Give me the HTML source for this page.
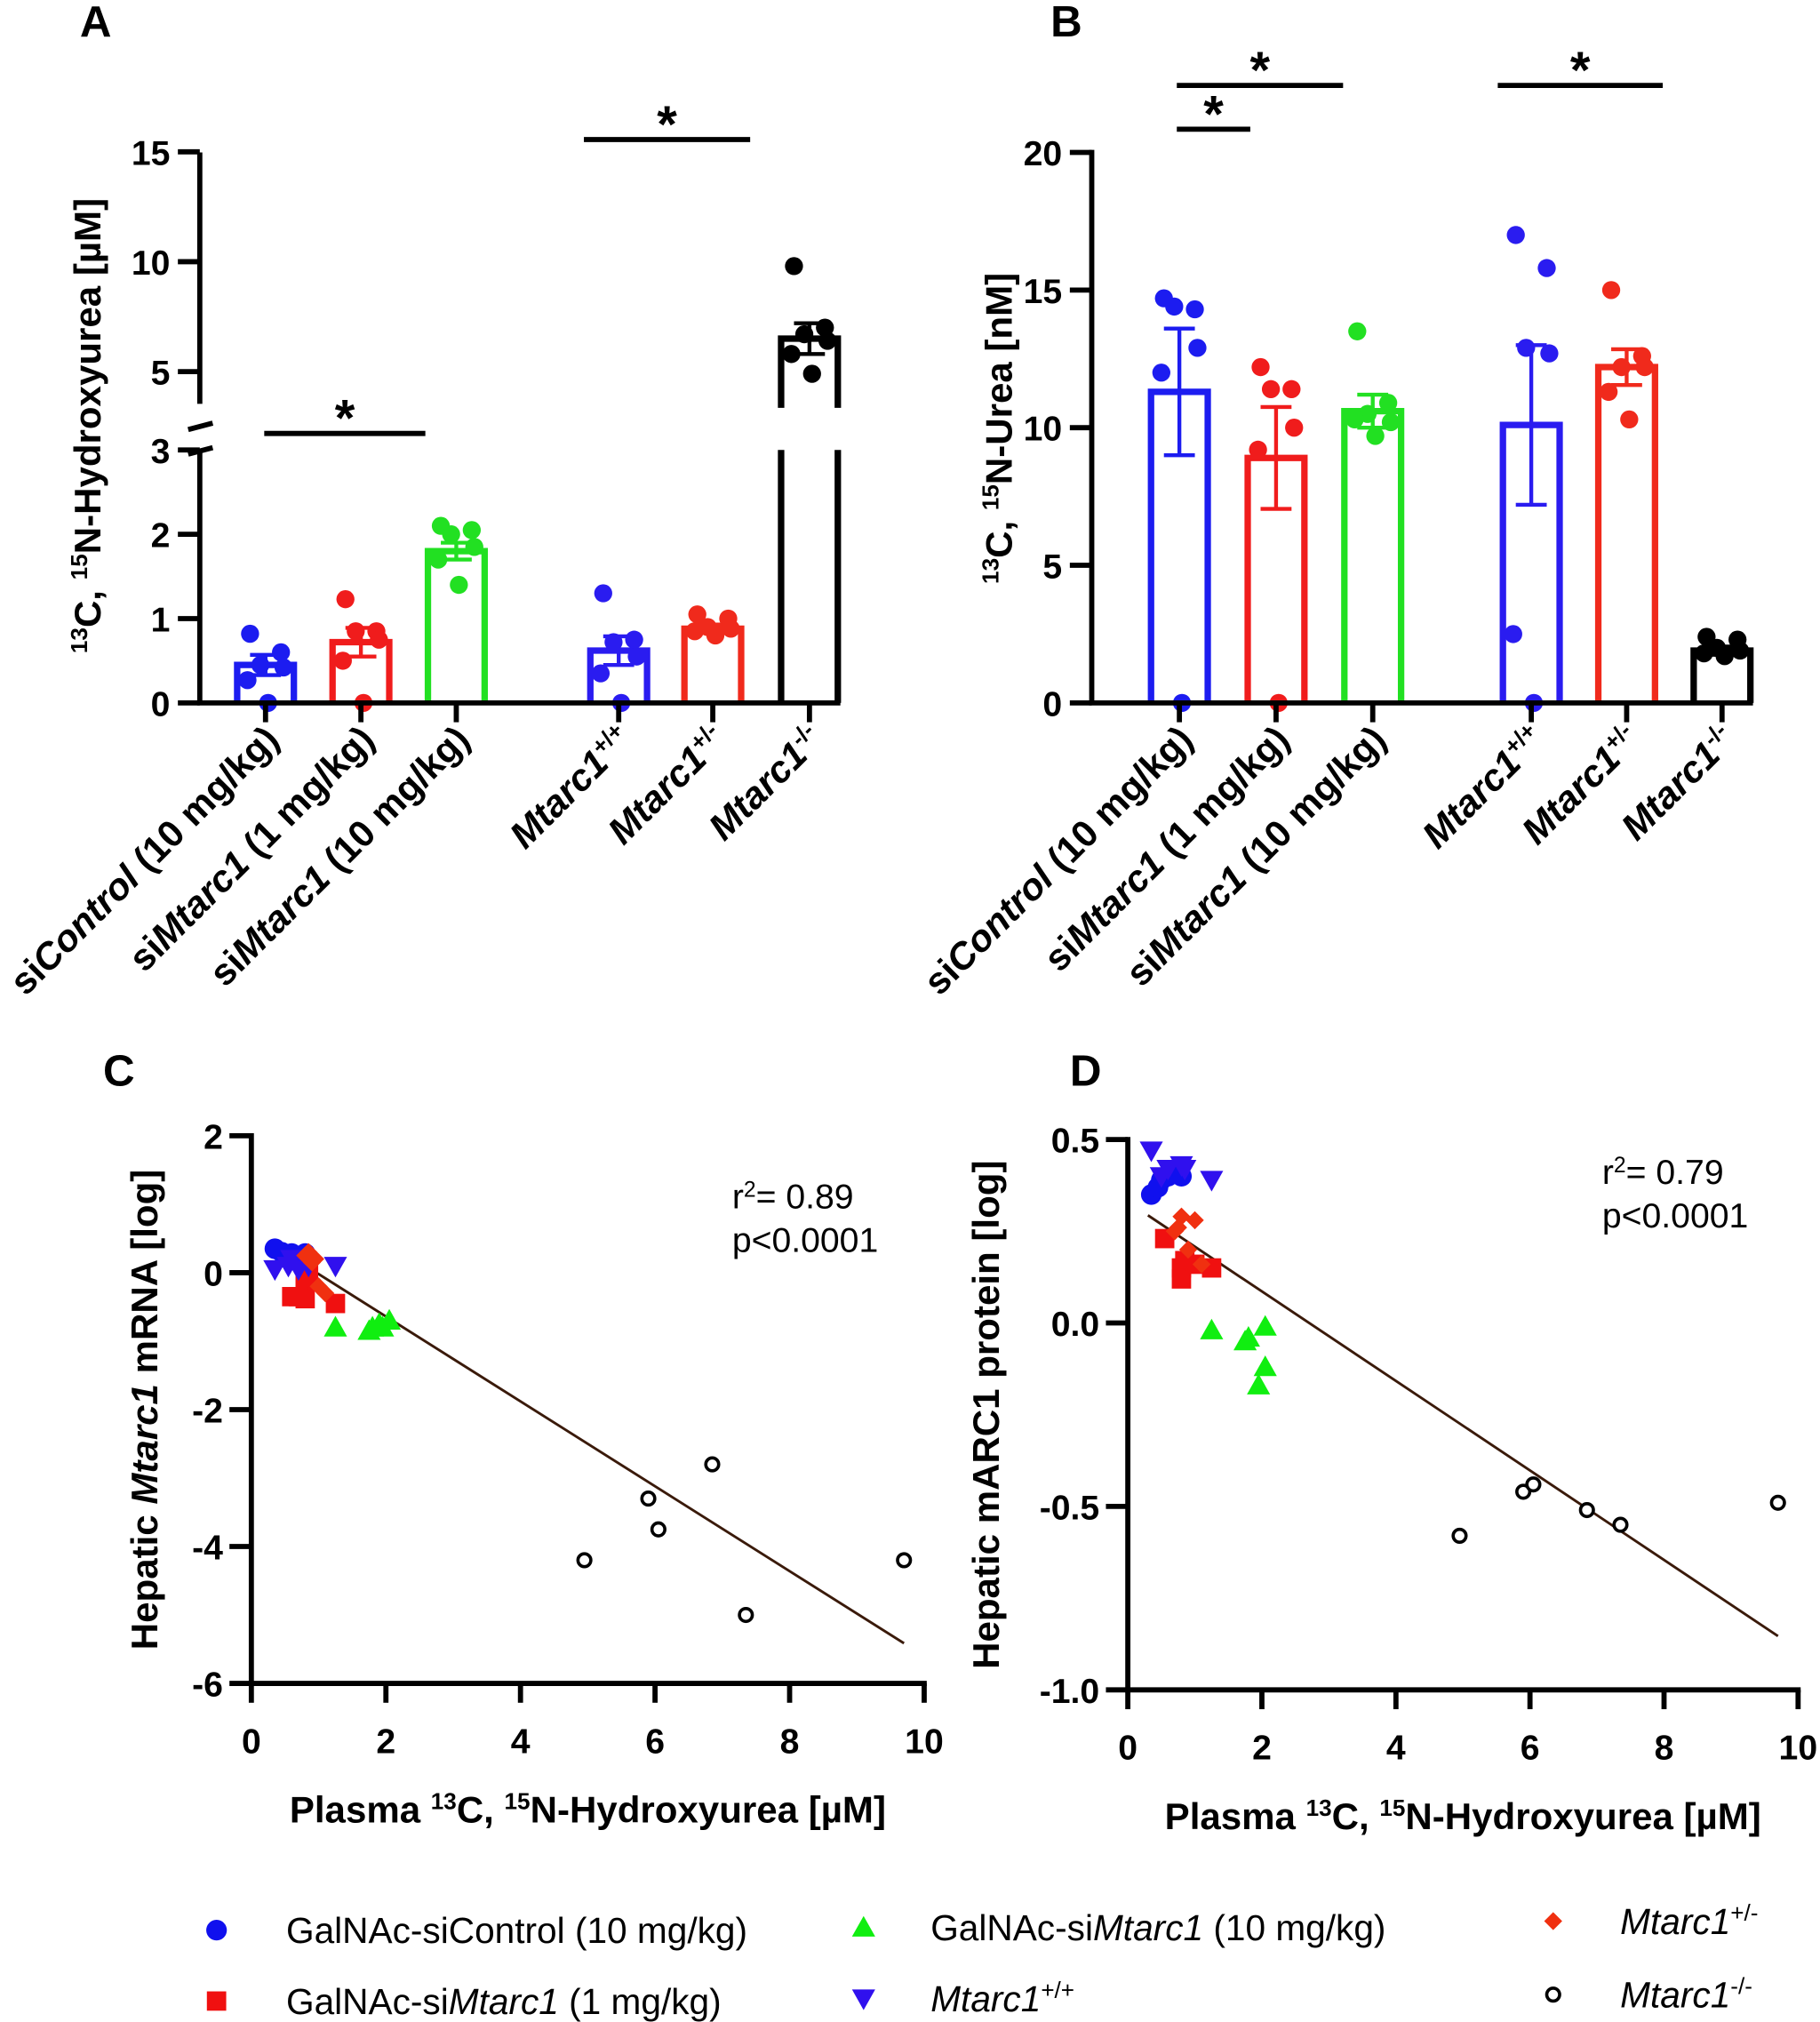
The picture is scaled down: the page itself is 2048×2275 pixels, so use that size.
<!DOCTYPE html>
<html><head><meta charset="utf-8"><style>
html,body{margin:0;padding:0;background:#fff;}
svg{display:block;font-family:"Liberation Sans",Arial,sans-serif;}
.tk{font-size:27px;font-weight:bold;}
.at{font-size:29px;font-weight:bold;}
.pl{font-size:34px;font-weight:bold;}
.st{font-size:40px;font-weight:bold;}
.lg{font-size:28px;}
</style></head><body>
<svg id="fig" width="2048" height="2275" viewBox="0 0 1412 1568">
<g id="A"></g>
<g id="B"></g>
<g id="C"></g>
<g id="D"></g>
<g id="L"></g>
</svg>
<script>
const NS="http://www.w3.org/2000/svg";
// ---- Data ----
const barGroups=["siControl (10 mg/kg)","siMtarc1 (1 mg/kg)","siMtarc1 (10 mg/kg)","Mtarc1+/+","Mtarc1+/-","Mtarc1-/-"];
const barColors=["#1c1cf0","#f01c1c","#22e022","#2a1cf0","#f02a1c","#000"];
const aMeans=[0.45,0.72,1.8,0.62,0.88,6.5];
const aSem=[0.12,0.17,0.1,0.17,0.05,0.7];
const aPoints=[[0.82,0.6,0.45,0.42,0.27,0.0],[1.23,0.85,0.85,0.75,0.5,0.0],[2.1,2.05,2.0,1.85,1.7,1.4],[1.3,0.75,0.72,0.55,0.35,0.0],[1.05,1.0,0.9,0.88,0.85,0.8],[9.8,7.0,6.7,6.4,5.8,4.9]];
const bMeans=[11.3,8.9,10.6,10.1,12.2,1.9];
const bSem=[2.3,1.85,0.6,2.9,0.65,0.15];
const bPoints=[[14.7,14.3,14.4,12.9,12.0,0],[12.2,11.4,11.4,10.0,9.2,0],[13.5,10.9,10.5,10.2,10.3,9.7],[17.0,15.8,12.9,12.7,2.5,0],[15.0,12.6,12.2,12.2,11.3,10.3],[2.4,2.3,2.0,1.9,1.8,1.7]];
const aTicksLow=[0,1,2,3], aTicksHigh=[5,10,15], bTicks=[0,5,10,15,20];
const cX=[[0.35,0.5,0.6,0.75,0.8,0.45],[0.6,0.8,0.8,1.25,0.7,0.85],[1.75,1.8,2.05,1.95,1.25,1.9],[0.35,0.55,0.7,0.85,1.25,0.6],[0.8,0.9,1.0,1.1,0.95,0.85],[4.95,5.9,6.05,6.85,7.35,9.7]];
const cY=[[0.35,0.25,0.28,0.25,0.28,0.3],[-0.35,-0.38,-0.1,-0.45,-0.35,0.0],[-0.85,-0.8,-0.7,-0.8,-0.8,-0.75],[0.05,0.1,0.05,0.1,0.1,0.2],[0.25,0.15,-0.2,-0.3,0.2,0.3],[-4.2,-3.3,-3.75,-2.8,-5.0,-4.2]];
const dX=[[0.35,0.5,0.6,0.7,0.8,0.45],[0.55,0.8,0.8,0.85,1.25,1.0],[1.25,1.75,1.8,2.05,2.05,1.95],[0.35,0.6,0.8,0.85,1.25,0.5],[0.75,0.8,1.0,0.9,1.1,0.7],[4.95,5.9,6.05,6.85,7.35,9.7]];
const dY=[[0.35,0.39,0.4,0.41,0.4,0.37],[0.23,0.12,0.15,0.17,0.15,0.16],[-0.02,-0.05,-0.04,-0.12,-0.01,-0.17],[0.47,0.42,0.43,0.42,0.39,0.4],[0.26,0.29,0.28,0.2,0.16,0.25],[-0.58,-0.46,-0.44,-0.51,-0.55,-0.49]];
const cFit=[0.6,-0.62], dFit=[0.33,-0.122];
const xTicks=[0,2,4,6,8,10], cYTicks=[2,0,-2,-4,-6], dYTicks=[0.5,0.0,-0.5,-1.0];
const seriesNames=["GalNAc-siControl (10 mg/kg)","GalNAc-siMtarc1 (1 mg/kg)","GalNAc-siMtarc1 (10 mg/kg)","Mtarc1+/+","Mtarc1+/-","Mtarc1-/-"];
const sColors=["#1010ee","#f01010","#10ee10","#3010ee","#f03010","#000"];
const sShapes=["circle","square","tri","dtri","diamond","open"];

function el(p,t,a,txt){const e=document.createElementNS(NS,t);for(const k in a)e.setAttribute(k,a[k]);if(txt!==undefined)e.innerHTML=txt;p.appendChild(e);return e;}
function line(p,x1,y1,x2,y2,c,w){return el(p,"line",{x1,y1,x2,y2,stroke:c||"#000","stroke-width":w||4});}

// ---- Panel A ----
const A=document.getElementById("A");
function ayA(v){return v<=3.5?545-v*65.4:288-(v-5)*17.05;}
const bxA=[206,280,354,480,553,628], bxB=[915,990,1065,1188,1262,1336];
let t=el(A,"text",{x:62,y:28,class:"pl"},"A");
function drawBars(P,bx,means,sem,pts,ay,clipBreak){
 means.forEach((m,i)=>{
  const c=barColors[i],g=el(P,"g",{});
  
  
  const x0=bx[i]-22,x1=bx[i]+22,top=ay(m);
  if(clipBreak&&m>3.5){
   el(g,"path",{d:`M${x0},545V${ay(3)}M${x1},545V${ay(3)}M${x0},${ay(3.5)}V${top}H${x1}V${ay(3.5)}`,fill:"none",stroke:c,"stroke-width":5});
  } else el(g,"path",{d:`M${x0},545V${top}H${x1}V545`,fill:"none",stroke:c,"stroke-width":5});
  const yt=ay(m+sem[i]),yb=ay(Math.max(0,m-sem[i]));
  line(g,bx[i],yt,bx[i],yb,c,3);line(g,bx[i]-12,yt,bx[i]+12,yt,c,3);line(g,bx[i]-12,yb,bx[i]+12,yb,c,3);
  pts[i].forEach((v,j)=>{const off=[-12,12,-4,14,-14,2][j];
   const d=el(g,"circle",{cx:bx[i]+off,cy:ay(v),r:7,fill:c==="#000"?"#000":c});
   });
 });
}
drawBars(A,bxA,aMeans,aSem,aPoints,ayA,true);
line(A,155,545,155,349);line(A,155,313,155,118);line(A,153,545,652,545);
line(A,146,333,165,328,"#000",4);line(A,146,352,165,347,"#000",4);
aTicksLow.concat(aTicksHigh).forEach(v=>{const y=ayA(v);line(A,138,y,155,y);
 const tt=el(A,"text",{x:132,y:y+10,class:"tk","text-anchor":"end"},v);});
bxA.forEach(x=>line(A,x,545,x,560));
t=el(A,"text",{transform:"translate(78,330) rotate(-90)",class:"at","text-anchor":"middle"},'<tspan baseline-shift="super" font-size="18">13</tspan>C, <tspan baseline-shift="super" font-size="18">15</tspan>N-Hydroxyurea [µM]');

function sig(P,x1,x2,y){line(P,x1,y,x2,y,"#000",4);const s=el(P,"text",{x:(x1+x2)/2,y:y+2,class:"st","text-anchor":"middle"},"*");}
sig(A,205,330,336);sig(A,453,582,108);
const xl=['si<tspan font-style="italic">Control</tspan> (10 mg/kg)','si<tspan font-style="italic">Mtarc1</tspan> (1 mg/kg)','si<tspan font-style="italic">Mtarc1</tspan> (10 mg/kg)','<tspan font-style="italic">Mtarc1</tspan><tspan baseline-shift="super" font-size="18">+/+</tspan>','<tspan font-style="italic">Mtarc1</tspan><tspan baseline-shift="super" font-size="18">+/-</tspan>','<tspan font-style="italic">Mtarc1</tspan><tspan baseline-shift="super" font-size="18">-/-</tspan>'];
function xlabels(P,bx){bx.forEach((x,i)=>{const s=el(P,"text",{transform:`translate(${x+12},${575}) rotate(-45)`,class:"at","text-anchor":"end"},xl[i]);});}
xlabels(A,bxA);

// ---- Panel B ----
const B=document.getElementById("B");
function ayB(v){return 545-v*21.35;}
t=el(B,"text",{x:815,y:28,class:"pl"},"B");
drawBars(B,bxB,bMeans,bSem,bPoints,ayB,false);
line(B,847,545,847,116);line(B,845,545,1360,545);
bTicks.forEach(v=>{const y=ayB(v);line(B,830,y,847,y);const tt=el(B,"text",{x:824,y:y+10,class:"tk","text-anchor":"end"},v);});
bxB.forEach(x=>line(B,x,545,x,560));
t=el(B,"text",{transform:"translate(785,332) rotate(-90)",class:"at","text-anchor":"middle"},'<tspan baseline-shift="super" font-size="18">13</tspan>C, <tspan baseline-shift="super" font-size="18">15</tspan>N-Urea [nM]');

sig(B,913,970,100);sig(B,913,1042,66);sig(B,1162,1290,66);
xlabels(B,bxB);

// ---- Scatter panels ----
function marker(P,shape,c,x,y){let m;
 if(shape==="circle")m=el(P,"circle",{cx:x,cy:y,r:8,fill:c});
 else if(shape==="square")m=el(P,"rect",{x:x-7.5,y:y-7.5,width:15,height:15,fill:c});
 else if(shape==="tri")m=el(P,"polygon",{points:`${x},${y-9} ${x-9},${y+7} ${x+9},${y+7}`,fill:c});
 else if(shape==="dtri")m=el(P,"polygon",{points:`${x},${y+9} ${x-9},${y-7} ${x+9},${y-7}`,fill:c});
 else if(shape==="diamond")m=el(P,"polygon",{points:`${x},${y-7} ${x+7},${y} ${x},${y+7} ${x-7},${y}`,fill:c});
 else m=el(P,"circle",{cx:x,cy:y,r:5,fill:"#fff",stroke:"#000","stroke-width":2.5});
 return m;}
function scatter(P,opt){
 const sx=v=>opt.x0+v*opt.xs, sy=v=>opt.y0-(v-opt.yv0)*opt.ys;
 const ymin=opt.yt[opt.yt.length-1],ymax=opt.yt[0];
 let t=el(P,"text",{x:opt.lx,y:842,class:"pl"},opt.label);
 line(P,opt.x0,sy(ymin)+2,opt.x0,sy(ymax)-2);line(P,opt.x0-2,sy(ymin),sx(10)+2,sy(ymin));
 opt.yt.forEach(v=>{const y=sy(v);line(P,opt.x0-17,y,opt.x0,y);const tt=el(P,"text",{x:opt.x0-22,y:y+10,class:"tk","text-anchor":"end"},opt.fmt(v));});
 xTicks.forEach(v=>{const x=sx(v);line(P,x,sy(ymin),x,sy(ymin)+15);const tt=el(P,"text",{x:x,y:sy(ymin)+54,class:"tk","text-anchor":"middle"},v);});
 t=el(P,"text",{x:(opt.x0+sx(10))/2,y:sy(ymin)+108,class:"at","text-anchor":"middle"},'Plasma <tspan baseline-shift="super" font-size="18">13</tspan>C, <tspan baseline-shift="super" font-size="18">15</tspan>N-Hydroxyurea [µM]');
 
 t=el(P,"text",{transform:`translate(${opt.tx},${(sy(ymin)+sy(ymax))/2}) rotate(-90)`,class:"at","text-anchor":"middle"},opt.ytitle);
 
 const f=opt.fit,fl=el(P,"line",{x1:sx(0.3),y1:sy(f[0]+f[1]*0.3),x2:sx(9.7),y2:sy(f[0]+f[1]*9.7),stroke:"#3a1a0a","stroke-width":2});
 
 opt.X.forEach((xs,i)=>xs.forEach((xv,j)=>marker(P,sShapes[i],sColors[i],sx(xv),sy(opt.Y[i][j]))));
 t=el(P,"text",{x:opt.rx,y:opt.ry,style:"font-size:27px"},'r<tspan baseline-shift="super" font-size="17">2</tspan>= '+opt.r2);
 t=el(P,"text",{x:opt.rx,y:opt.ry+34,style:"font-size:27px"},'p&lt;0.0001');
}
scatter(document.getElementById("C"),{label:"C",lx:80,x0:195,xs:52.2,y0:987,yv0:0,ys:53.1,yt:cYTicks,fmt:v=>v,fit:cFit,X:cX,Y:cY,rx:568,ry:937,r2:"0.89",tx:122,
 ytitle:'Hepatic <tspan font-style="italic">Mtarc1</tspan> mRNA  [log]'});
scatter(document.getElementById("D"),{label:"D",lx:830,x0:875,xs:52,y0:1026,yv0:0,ys:284.6,yt:dYTicks,fmt:v=>v.toFixed(1),fit:dFit,X:dX,Y:dY,rx:1243,ry:918,r2:"0.79",tx:775,
 ytitle:'Hepatic mARC1 protein  [log]'});

// ---- Legend ----
const L=document.getElementById("L");
const lgLabels=['GalNAc-siControl (10 mg/kg)','GalNAc-si<tspan font-style="italic">Mtarc1</tspan> (1 mg/kg)','GalNAc-si<tspan font-style="italic">Mtarc1</tspan> (10 mg/kg)','<tspan font-style="italic">Mtarc1</tspan><tspan baseline-shift="super" font-size="18">+/+</tspan>','<tspan font-style="italic">Mtarc1</tspan><tspan baseline-shift="super" font-size="18">+/-</tspan>','<tspan font-style="italic">Mtarc1</tspan><tspan baseline-shift="super" font-size="18">-/-</tspan>'];
const lgPos=[[168,222,1497],[168,222,1552],[670,722,1495],[670,722,1550],[1205,1257,1490],[1205,1257,1547]];
lgLabels.forEach((s,i)=>{const g=el(L,"g",{});
 
 
 const p=lgPos[i];marker(g,sShapes[i],sColors[i],p[0],p[2]);
 el(g,"text",{x:p[1],y:p[2]+10,class:"lg"},s);});
</script>
</body></html>
